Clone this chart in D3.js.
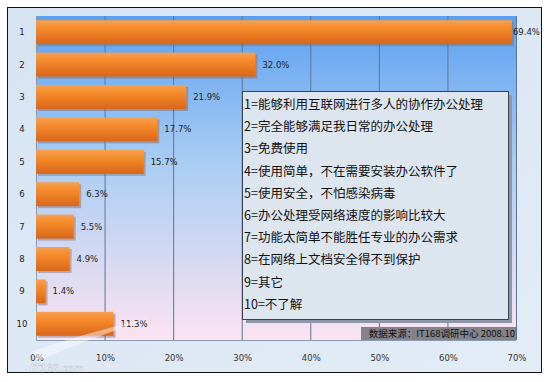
<!DOCTYPE html>
<html>
<head>
<meta charset="utf-8">
<script src="https://cdn.jsdelivr.net/npm/d3@7"></script>
<style>
  body { margin: 0; background: #fff; }
  svg { display: block; }
</style>
</head>
<body>
<svg id="chart" width="550" height="382"></svg>
<script>
// survey answers, percent
const categories = ["1", "2", "3", "4", "5", "6", "7", "8", "9", "10"]
const values = [69.4, 32.0, 21.9, 17.7, 15.7, 6.3, 5.5, 4.9, 1.4, 11.3]
const ticks = [0, 10, 20, 30, 40, 50, 60, 70]
const legendItems = [
  "1=能够利用互联网进行多人的协作办公处理",
  "2=完全能够满足我日常的办公处理",
  "3=免费使用",
  "4=使用简单，不在需要安装办公软件了",
  "5=使用安全，不怕感染病毒",
  "6=办公处理受网络速度的影响比较大",
  "7=功能太简单不能胜任专业的办公需求",
  "8=在网络上文档安全得不到保护",
  "9=其它",
  "10=不了解"
]
const source = "数据来源：IT168调研中心 2008.10"

const svg = d3.select("#chart")
const defs = svg.append("defs")

const plot = {left: 36, right: 516, top: 16, bottom: 340}

let bg = defs.append("linearGradient").attr("id", "plotbg").attr("x1", 0).attr("y1", 0).attr("x2", 0).attr("y2", 1)
bg.append("stop").attr("offset", "0%").attr("stop-color", "#5b9ff0")
bg.append("stop").attr("offset", "45%").attr("stop-color", "#a9cdf3")
bg.append("stop").attr("offset", "100%").attr("stop-color", "#fbe3f1")

let bar = defs.append("linearGradient").attr("id", "bar").attr("x1", 0).attr("y1", 0).attr("x2", 0).attr("y2", 1)
bar.append("stop").attr("offset", "0%").attr("stop-color", "#f5a050")
bar.append("stop").attr("offset", "35%").attr("stop-color", "#f58a2a")
bar.append("stop").attr("offset", "100%").attr("stop-color", "#d8661a")

let outer = defs.append("linearGradient").attr("id", "outer").attr("x1", 0).attr("y1", 0).attr("x2", 1).attr("y2", 1)
outer.append("stop").attr("offset", "0%").attr("stop-color", "#d6e4f2")
outer.append("stop").attr("offset", "100%").attr("stop-color", "#e3ecf6")

//outer frame
svg.append("rect")
  .attr("x", 7.5).attr("y", 7.5).attr("width", 534).attr("height", 365)
  .attr("fill", "url(#outer)").attr("stroke", "#111").attr("stroke-width", 1)

const x = d3.scaleLinear().domain([0, 70]).range([plot.left, plot.right])
const y = d3.scaleBand().domain(categories).range([plot.top, plot.bottom]).paddingInner(0.26).paddingOuter(0.13)

svg.append("rect")
  .attr("x", plot.left).attr("y", plot.top)
  .attr("width", plot.right - plot.left).attr("height", plot.bottom - plot.top)
  .attr("fill", "url(#plotbg)")

//vertical grid
svg.append("g")
  .selectAll("line")
  .data(ticks.slice(1))
  .join("line")
  .attr("x1", d => x(d) + 0.5).attr("x2", d => x(d) + 0.5)
  .attr("y1", plot.top).attr("y2", plot.bottom)
  .attr("stroke", "#5f7590").attr("stroke-width", 1)

//axis lines
svg.append("line").attr("x1", plot.left + 0.5).attr("x2", plot.left + 0.5)
  .attr("y1", plot.top).attr("y2", plot.bottom).attr("stroke", "#8a9ab0")
svg.append("line").attr("x1", plot.left).attr("x2", plot.right)
  .attr("y1", plot.bottom + 0.5).attr("y2", plot.bottom + 0.5).attr("stroke", "#8a9ab0")

//bars with shadow
svg.append("g")
  .selectAll("rect")
  .data(values)
  .join("rect")
  .attr("x", plot.left + 2)
  .attr("y", (d, i) => y(categories[i]) + 2)
  .attr("width", d => x(d) - x(0))
  .attr("height", y.bandwidth())
  .attr("fill", "#7d6a70").attr("opacity", 0.45)

svg.append("g")
  .selectAll("rect")
  .data(values)
  .join("rect")
  .attr("x", plot.left)
  .attr("y", (d, i) => y(categories[i]))
  .attr("width", d => x(d) - x(0))
  .attr("height", y.bandwidth())
  .attr("fill", "url(#bar)")

svg.append("g")
  .selectAll("text")
  .data(values)
  .join("text")
  .attr("x", d => x(d) + (d > 60 ? 1 : 7))
  .attr("y", (d, i) => y(categories[i]) + y.bandwidth() / 2 + 3)
  .attr("font-family", "DejaVu Sans, sans-serif")
  .attr("font-size", 8.5)
  .attr("fill", "#222")
  .text(d => d.toFixed(1) + "%")

//category labels
svg.append("g")
  .selectAll("text")
  .data(categories)
  .join("text")
  .attr("x", 22)
  .attr("y", d => y(d) + y.bandwidth() / 2 + 3)
  .attr("text-anchor", "middle")
  .attr("font-family", "DejaVu Sans, sans-serif")
  .attr("font-size", 8.5)
  .attr("fill", "#222")
  .text(d => d)

//x tick labels
svg.append("g")
  .selectAll("text")
  .data(ticks)
  .join("text")
  .attr("x", d => x(d) + 1)
  .attr("y", 361)
  .attr("text-anchor", "middle")
  .attr("font-family", "DejaVu Sans, sans-serif")
  .attr("font-size", 8.5)
  .attr("fill", "#333")
  .text(d => d + "%")

//legend box
const lg = {x: 242, y: 91, w: 266, h: 228}
svg.append("rect")
  .attr("x", lg.x + 4).attr("y", lg.y + 4).attr("width", lg.w).attr("height", lg.h)
  .attr("fill", "#8d96a6")
svg.append("rect")
  .attr("x", lg.x + 0.5).attr("y", lg.y + 0.5).attr("width", lg.w).attr("height", lg.h)
  .attr("fill", "#dde5ef").attr("stroke", "#3a4250").attr("stroke-width", 1)

svg.append("g")
  .selectAll("text")
  .data(legendItems)
  .join("text")
  .attr("x", lg.x + 2)
  .attr("y", (d, i) => 109 + i * 22.2)
  .attr("font-family", "Noto Sans CJK SC, sans-serif")
  .attr("font-size", 12.5)
  .attr("fill", "#111")
  .text(d => d)

//source label
svg.append("rect")
  .attr("x", 361).attr("y", 327).attr("width", plot.right - 361).attr("height", 13)
  .attr("fill", "#85838a")
svg.append("text")
  .attr("x", plot.right - 1).attr("y", 337)
  .attr("text-anchor", "end")
  .attr("font-family", "Noto Sans CJK SC, sans-serif")
  .attr("font-size", 9.5)
  .attr("fill", "#111")
  .text(source)

//watermark swoosh + logo text, kept below the tick labels
svg.append("path")
  .attr("d", "M30,352 C80,335 120,325 150,318 C110,332 75,345 40,360 Z")
  .attr("fill", "#fff").attr("opacity", 0.45)
svg.append("text")
  .attr("x", 30).attr("y", 372)
  .attr("font-family", "Liberation Sans, sans-serif")
  .attr("font-weight", "bold").attr("font-style", "italic")
  .attr("font-size", 11)
  .attr("fill", "#fff").attr("opacity", 0.75)
  .attr("stroke", "#9aa8b8").attr("stroke-width", 0.4)
  .text("IT168.com")
</script>
</body>
</html>
